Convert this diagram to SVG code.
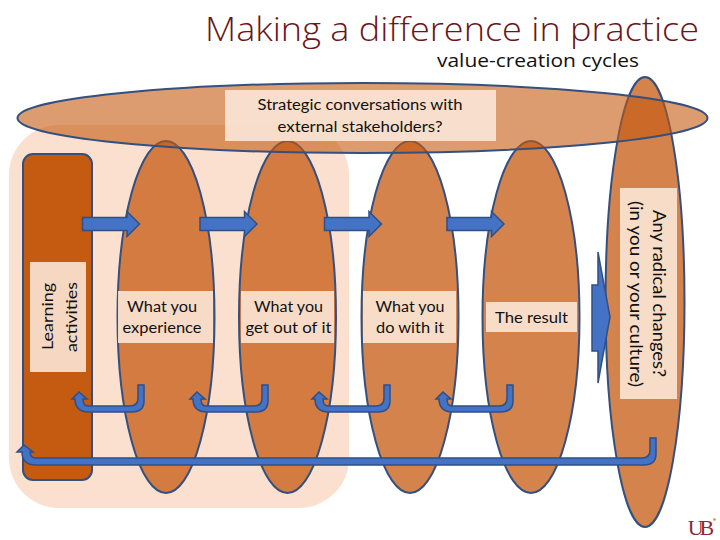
<svg xmlns="http://www.w3.org/2000/svg" xmlns:xlink="http://www.w3.org/1999/xlink" width="720" height="540" viewBox="0 0 720 540">
<style>
text{font-family:"Lato","Open Sans","DejaVu Sans",sans-serif;fill:#111;text-anchor:middle}
.lbl{font-size:15.500px}
.big{font-size:17.500px}
.head{font-family:"Open Sans","Noto Sans",sans-serif;font-weight:300}
.box{fill:#FBE5D6;fill-opacity:.9}
.cyc{fill:#C55A11;fill-opacity:.75;stroke:#34507F;stroke-width:2}
.arr{fill:#4472C4;stroke:#2F4F85;stroke-width:1.500;stroke-linejoin:miter}
</style>
<defs>
<path id="block" d="M0 -6.500H44.500V-12.500L57 0L44.500 12.500V6.500H0Z"/>
</defs>
<rect width="720" height="540" fill="#fff"/>
<g id="frame"><rect x="9" y="125" width="340" height="383" rx="50" fill="#FBE0CF"/></g>
<g id="learning">
<rect x="23" y="154" width="69" height="326" rx="10" fill="#C55A11" stroke="#34507F" stroke-width="2"/>
<rect class="box" x="30" y="262" width="56" height="110"/>
<text class="lbl" transform="translate(53 316.500) rotate(-90)" textLength="67" lengthAdjust="spacingAndGlyphs">Learning</text>
<text class="lbl" transform="translate(77 317) rotate(-90)" textLength="70" lengthAdjust="spacingAndGlyphs">activities</text>
</g>
<g id="experience">
<ellipse class="cyc" cx="166" cy="317" rx="48.500" ry="176"/>
<rect class="box" x="118" y="291" width="95" height="52"/>
<text class="lbl" x="162" y="312" textLength="70" lengthAdjust="spacingAndGlyphs">What you</text><text class="lbl" x="162" y="332.500" textLength="79" lengthAdjust="spacingAndGlyphs">experience</text>
</g>
<g id="getout">
<ellipse class="cyc" cx="287.500" cy="317" rx="48.500" ry="176"/>
<rect class="box" x="241" y="291" width="93" height="52"/>
<text class="lbl" x="288.500" y="312" textLength="69" lengthAdjust="spacingAndGlyphs">What you</text><text class="lbl" x="288.500" y="333" textLength="86" lengthAdjust="spacingAndGlyphs">get out of it</text>
</g>
<g id="dowith">
<ellipse class="cyc" cx="410" cy="317" rx="48.500" ry="176"/>
<rect class="box" x="363" y="291" width="93" height="52"/>
<text class="lbl" x="410" y="312" textLength="69" lengthAdjust="spacingAndGlyphs">What you</text><text class="lbl" x="410" y="333" textLength="68" lengthAdjust="spacingAndGlyphs">do with it</text>
</g>
<g id="result">
<ellipse class="cyc" cx="531" cy="317" rx="48.500" ry="176"/>
<rect class="box" x="486" y="302" width="91" height="30"/>
<text class="lbl" x="531.500" y="322.500" textLength="73" lengthAdjust="spacingAndGlyphs">The result</text>
</g>
<g id="radical">
<ellipse class="cyc" cx="645" cy="302" rx="39.500" ry="225"/>
<rect class="box" x="620" y="188" width="57" height="211"/>
<text class="big" transform="translate(653 293.500) rotate(90)" textLength="167" lengthAdjust="spacingAndGlyphs">Any radical changes?</text>
<text class="big" transform="translate(630 294) rotate(90)" textLength="186" lengthAdjust="spacingAndGlyphs">(in you or your culture)</text>
</g>
<g id="strategic">
<ellipse cx="362.500" cy="118" rx="345" ry="35" fill="#C55A11" fill-opacity=".6" stroke="#34507F" stroke-width="2"/>
<rect class="box" x="225" y="90" width="271" height="51"/>
<text class="lbl" x="360" y="110" textLength="205" lengthAdjust="spacingAndGlyphs">Strategic conversations with</text>
<text class="lbl" x="360" y="132" textLength="165" lengthAdjust="spacingAndGlyphs">external stakeholders?</text>
</g>
<g id="connectors">
<use class="arr" xlink:href="#block" href="#block" x="82.500" y="224"/>
<use class="arr" xlink:href="#block" href="#block" x="200" y="224"/>
<use class="arr" xlink:href="#block" href="#block" x="324.500" y="224"/>
<use class="arr" xlink:href="#block" href="#block" x="447" y="224"/>
<path class="arr" d="M592 285H598L598 252L610 317L598 383L598 351H592Z"/>
<path class="arr" d="M138 385V398Q138 406 130 406H88Q83 406 83 399H87L79 392L72 399H75Q75 412 89 412H132Q144 412 144 401V385Z"/>
<path class="arr" d="M262 385V398Q262 406 254 406H206Q201 406 201 399H205L197 392L190 399H193Q193 412 207 412H256Q268 412 268 401V385Z"/>
<path class="arr" d="M384 385V398Q384 406 376 406H328Q323 406 323 399H327L319 392L312 399H315Q315 412 329 412H378Q390 412 390 401V385Z"/>
<path class="arr" d="M507 385V398Q507 406 499 406H452Q447 406 447 399H451L443 392L436 399H439Q439 412 453 412H501Q513 412 513 401V385Z"/>
<path class="arr" d="M650 438V450Q650 458 642 458H36Q30 458 30 452H33L24 445L17 452H22Q22 465 36 465H644Q656 465 656 454V438Z"/>
</g>
<text class="head" x="452" y="41" font-size="33.600" style="fill:#6B1519" textLength="494" lengthAdjust="spacingAndGlyphs">Making a difference in practice</text>
<text class="head" x="538" y="67" font-size="19" style="font-weight:400" textLength="202" lengthAdjust="spacingAndGlyphs">value-creation cycles</text>
<g id="logo">
<text x="699" y="535" font-size="22" style="font-family:'Liberation Serif',serif;fill:#8C2B36" letter-spacing="-4">UB</text>
<circle cx="714.500" cy="519.500" r="1.300" fill="#E08A3C"/>
</g>
</svg>
